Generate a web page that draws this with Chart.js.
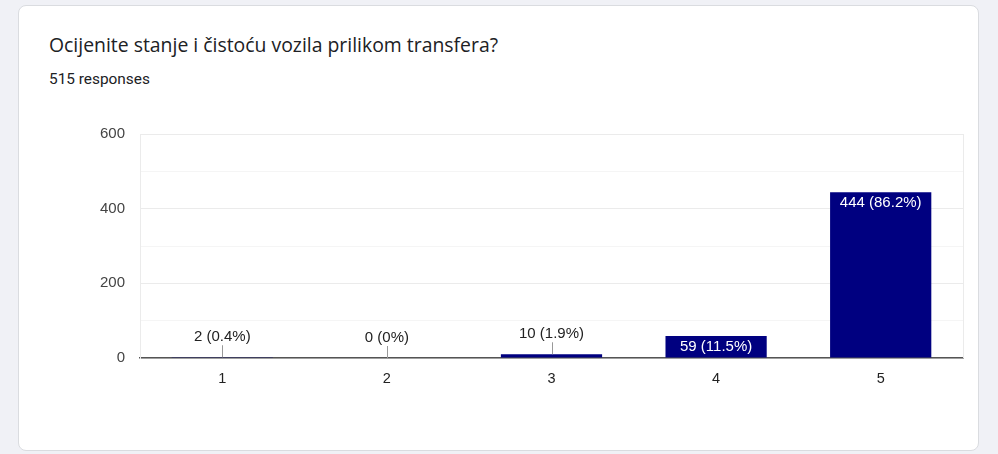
<!DOCTYPE html>
<html>
<head>
<meta charset="utf-8">
<script src="https://cdn.jsdelivr.net/npm/chart.js@4"></script>
<style>
html,body{margin:0;padding:0;background:#f0f1f6;width:998px;height:454px;overflow:hidden;}
#card{position:absolute;left:18px;top:5px;width:959px;height:444px;background:#fff;border:1px solid #dadce0;border-radius:8px;}
#title{position:absolute;left:49px;top:31px;font-family:"Open Sans",sans-serif;font-size:19.4px;color:#202124;white-space:nowrap;}
#sub{position:absolute;left:49px;top:70px;font-family:Roboto,sans-serif;font-size:15.4px;color:#202124;white-space:nowrap;}
#wrap{position:absolute;left:0;top:0;width:998px;height:454px;}
</style>
</head>
<body>
<div id="card"></div>
<div id="title">Ocijenite stanje i čistoću vozila prilikom transfera?</div>
<div id="sub">515 responses</div>
<div id="wrap"><canvas id="c"></canvas></div>
<script>
const categories = ["1", "2", "3", "4", "5"];
const counts = [2, 0, 10, 59, 444];
const yTicks = [0, 200, 400, 600];

const total = counts.reduce((a, b) => a + b, 0);
function labelFor(v) {
  const p = Math.round(v / total * 1000) / 10;
  return v + " (" + p + "%)";
}

const labelPlugin = {
  id: 'barLabels',
  afterDatasetsDraw(chart) {
    const ctx = chart.ctx;
    const meta = chart.getDatasetMeta(0);
    ctx.save();
    ctx.font = '15px "Liberation Sans", Arial, sans-serif';
    ctx.textAlign = 'center';
    ctx.textBaseline = 'middle';
    meta.data.forEach((bar, i) => {
      const v = counts[i];
      const h = bar.base - bar.y;
      const txt = labelFor(v);
      if (h > 18) {
        ctx.fillStyle = '#ffffff';
        ctx.fillText(txt, bar.x, bar.y + 11);
      } else {
        const cy = bar.y - 20;
        ctx.fillStyle = '#222222';
        ctx.fillText(txt, bar.x, cy);
        ctx.strokeStyle = '#999999';
        ctx.lineWidth = 1;
        ctx.beginPath();
        ctx.moveTo(Math.round(bar.x) + 0.5, cy + 8);
        ctx.lineTo(Math.round(bar.x) + 0.5, bar.y);
        ctx.stroke();
      }
    });
    ctx.restore();
  }
};

const borderPlugin = {
  id: 'rightBorder',
  beforeDatasetsDraw(chart) {
    const a = chart.chartArea;
    const ctx = chart.ctx;
    ctx.save();
    ctx.strokeStyle = '#ebebeb';
    ctx.lineWidth = 1;
    ctx.beginPath();
    ctx.moveTo(Math.round(a.right) + 0.5, a.top);
    ctx.lineTo(Math.round(a.right) + 0.5, a.bottom);
    ctx.stroke();
    ctx.restore();
  }
};

new Chart(document.getElementById('c'), {
  type: 'bar',
  data: {
    labels: categories,
    datasets: [{
      data: counts,
      backgroundColor: '#000080',
      borderWidth: 0,
      categoryPercentage: 1.0,
      barPercentage: 0.615
    }]
  },
  options: {
    responsive: true,
    maintainAspectRatio: false,
    animation: false,
    layout: { padding: { left: 0, right: 35, top: 134, bottom: 0 } },
    plugins: { legend: { display: false }, tooltip: { enabled: false }, title: { display: false } },
    scales: {
      x: {
        grid: { display: false, drawTicks: false },
        border: { display: true, color: '#555555', width: 1.5 },
        ticks: { color: '#222222', padding: 12, font: { family: '"Liberation Sans", Arial, sans-serif', size: 14.5 } },
        afterFit(scale) { scale.height = 96; }
      },
      y: {
        min: 0, max: 600,
        ticks: {
          stepSize: 100,
          color: '#444444',
          padding: 15,
          font: { family: '"Liberation Sans", Arial, sans-serif', size: 15 },
          callback: (v) => yTicks.includes(v) ? String(v) : ''
        },
        grid: {
          drawTicks: false,
          color: (c) => (c.tick && yTicks.includes(c.tick.value)) ? '#ebebeb' : '#f5f5f5',
          lineWidth: 1
        },
        border: { display: true, color: '#ebebeb', width: 1 },
        afterFit(scale) { scale.width = 140; }
      }
    }
  },
  plugins: [borderPlugin, labelPlugin]
});
</script>
</body>
</html>
